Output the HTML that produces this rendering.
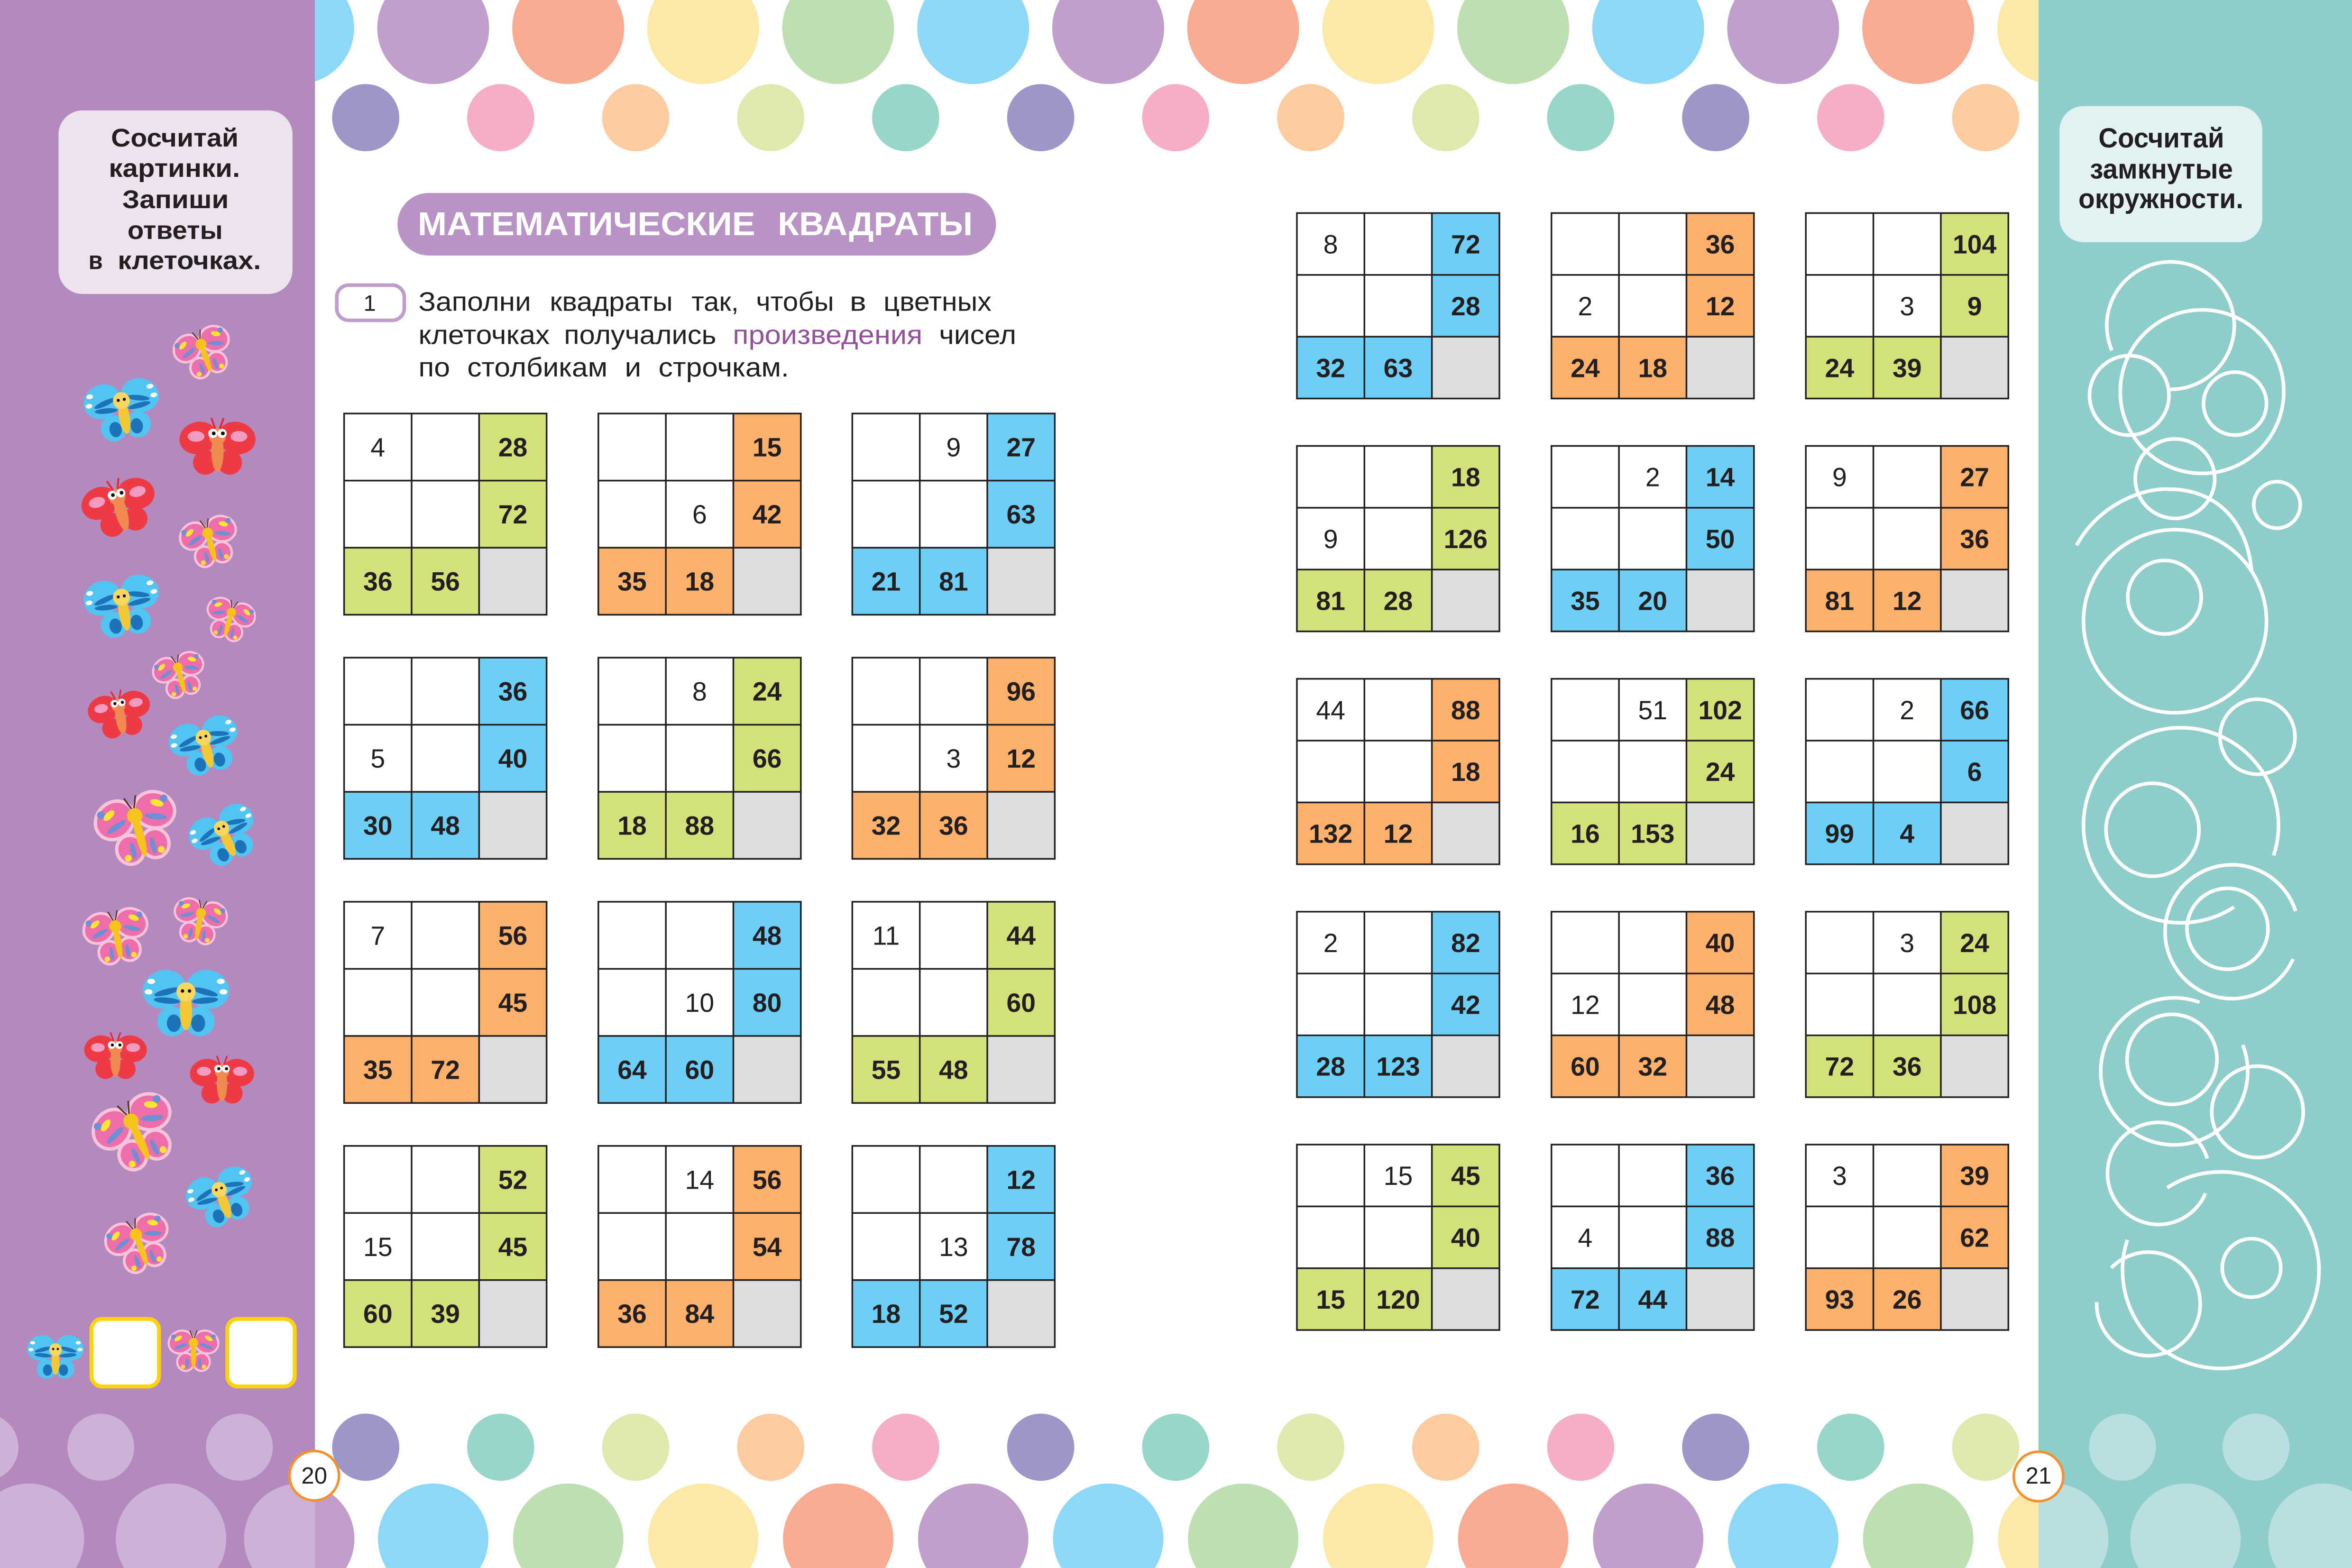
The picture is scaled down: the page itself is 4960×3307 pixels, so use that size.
<!DOCTYPE html>
<html><head><meta charset="utf-8">
<style>
html,body{margin:0;padding:0;background:#fff;}
svg{display:block;}
text{font-family:"Liberation Sans","DejaVu Sans",sans-serif;fill:#231f20;}
.g text{text-anchor:middle;font-size:17.5px;}
.b{font-weight:700;}
.p text{font-size:18px;}
</style></head><body>
<svg xmlns="http://www.w3.org/2000/svg" xmlns:xlink="http://www.w3.org/1999/xlink" width="4960" height="3307" viewBox="0 0 1568 1045" preserveAspectRatio="none">
<defs>
<clipPath id="cw"><rect x="210" y="0" width="1149" height="1045"/></clipPath>
<clipPath id="cpb"><rect x="0" y="0" width="210" height="1045"/></clipPath>
<clipPath id="ctb"><rect x="1359" y="0" width="209" height="1045"/></clipPath>
<path id="gl" d="M0 0H135V134.1H0Z M45 0V134.1M90 0V134.1M0 44.7H135M0 89.4H135" fill="none" stroke="#231f20" stroke-width="1.1"/>
<path id="gr" d="M0 0H135V123.6H0Z M45 0V123.6M90 0V123.6M0 41.2H135M0 82.4H135" fill="none" stroke="#231f20" stroke-width="1.1"/>
<path id="fl" d="M90 0h45v89.4h-45z M0 89.4h90v44.7h-90z"/>
<path id="fr" d="M90 0h45v82.4h-45z M0 82.4h90v41.2h-90z"/>
<rect id="ql" x="90" y="89.4" width="45" height="44.7" fill="#dcdddf"/>
<rect id="qr" x="90" y="82.4" width="45" height="41.2" fill="#dcdddf"/>

<g id="bp">
<g fill="#ee6dab" stroke="#f8c4dc" stroke-width="4">
<ellipse cx="-24" cy="-16" rx="24" ry="21" transform="rotate(-30 -24 -16)"/>
<ellipse cx="24" cy="-16" rx="24" ry="21" transform="rotate(30 24 -16)"/>
<ellipse cx="-15" cy="22" rx="16" ry="17"/>
<ellipse cx="15" cy="22" rx="16" ry="17"/>
</g>
<g fill="#6e8fd3"><ellipse cx="-24" cy="-8" rx="13" ry="3.5" transform="rotate(-20 -24 -8)"/><ellipse cx="24" cy="-8" rx="13" ry="3.5" transform="rotate(20 24 -8)"/><circle cx="-38" cy="-26" r="4.5"/><circle cx="38" cy="-26" r="4.5"/><ellipse cx="-12" cy="24" rx="3" ry="10"/><ellipse cx="12" cy="24" rx="3" ry="10"/></g>
<g fill="#fbe534"><ellipse cx="-29" cy="-23" rx="8" ry="4" transform="rotate(-30 -29 -23)"/><ellipse cx="29" cy="-23" rx="8" ry="4" transform="rotate(30 29 -23)"/><circle cx="-20" cy="31" r="4"/><circle cx="20" cy="31" r="4"/></g>
<path d="M0 -20 L-7 -38 M0 -20 L7 -38" stroke="#5a3a29" stroke-width="2" fill="none"/>
<ellipse cx="0" cy="8" rx="5" ry="26" fill="#f6c31c"/>
<circle cx="0" cy="-15" r="9" fill="#f6c31c"/>
</g>

<g id="bb">
<g fill="#51c4f1">
<ellipse cx="-25" cy="-15" rx="25" ry="22" transform="rotate(-20 -25 -15)"/>
<ellipse cx="25" cy="-15" rx="25" ry="22" transform="rotate(20 25 -15)"/>
<ellipse cx="-16" cy="22" rx="17" ry="17"/>
<ellipse cx="16" cy="22" rx="17" ry="17"/>
</g>
<g fill="#1d72b8">
<ellipse cx="-22" cy="-12" rx="15" ry="3.5" transform="rotate(-15 -22 -12)"/>
<ellipse cx="-22" cy="-2" rx="15" ry="3.5" transform="rotate(5 -22 -2)"/>
<ellipse cx="22" cy="-12" rx="15" ry="3.5" transform="rotate(15 22 -12)"/>
<ellipse cx="22" cy="-2" rx="15" ry="3.5" transform="rotate(-5 22 -2)"/>
<ellipse cx="-14" cy="24" rx="8" ry="10"/><ellipse cx="14" cy="24" rx="8" ry="10"/>
</g>
<g fill="#fff"><ellipse cx="-40" cy="-24" rx="4.5" ry="3"/><ellipse cx="-43" cy="-12" rx="4.5" ry="3"/><ellipse cx="40" cy="-24" rx="4.5" ry="3"/><ellipse cx="43" cy="-12" rx="4.5" ry="3"/></g>
<ellipse cx="0" cy="10" rx="7" ry="22" fill="#f4c737"/>
<circle cx="0" cy="-12" r="11" fill="#f8d660"/>
<circle cx="-4" cy="-13" r="2" fill="#111"/><circle cx="4" cy="-13" r="2" fill="#111"/>
</g>

<g id="br">
<g fill="#ee3a44">
<ellipse cx="-25" cy="-12" rx="25" ry="21" transform="rotate(-15 -25 -12)"/>
<ellipse cx="25" cy="-12" rx="25" ry="21" transform="rotate(15 25 -12)"/>
<ellipse cx="-16" cy="20" rx="16" ry="16"/>
<ellipse cx="16" cy="20" rx="16" ry="16"/>
</g>
<g fill="#f39ac0"><ellipse cx="-28" cy="-14" rx="11" ry="7"/><ellipse cx="28" cy="-14" rx="11" ry="7"/></g>
<ellipse cx="0" cy="6" rx="8" ry="26" fill="#f08a50"/>
<circle cx="0" cy="-14" r="11" fill="#f08a50"/>
<circle cx="-6" cy="-18" r="6" fill="#fff"/><circle cx="6" cy="-18" r="6" fill="#fff"/>
<circle cx="-5" cy="-18" r="2.5" fill="#111"/><circle cx="7" cy="-18" r="2.5" fill="#111"/>
<path d="M-3 -24 L-8 -38 M3 -24 L8 -38" stroke="#e8262f" stroke-width="2.5" fill="none"/>
</g>
</defs>

<!-- backgrounds -->
<rect x="0" y="0" width="1568" height="1045" fill="#fff"/>
<rect x="0" y="0" width="210" height="1045" fill="#b48abe"/>
<rect x="1359" y="0" width="209" height="1045" fill="#8fcdcb"/>

<!-- page circles -->
<g clip-path="url(#cw)">
<g>
<circle cx="198.8" cy="18.7" r="37.3" fill="#8dd8f7"/>
<circle cx="288.8" cy="18.7" r="37.3" fill="#c19fcc"/>
<circle cx="378.8" cy="18.7" r="37.3" fill="#f9ab91"/>
<circle cx="468.8" cy="18.7" r="37.3" fill="#fde9a7"/>
<circle cx="558.8" cy="18.7" r="37.3" fill="#bddfb1"/>
<circle cx="648.8" cy="18.7" r="37.3" fill="#8dd8f7"/>
<circle cx="738.8" cy="18.7" r="37.3" fill="#c19fcc"/>
<circle cx="828.8" cy="18.7" r="37.3" fill="#f9ab91"/>
<circle cx="918.8" cy="18.7" r="37.3" fill="#fde9a7"/>
<circle cx="1008.8" cy="18.7" r="37.3" fill="#bddfb1"/>
<circle cx="1098.8" cy="18.7" r="37.3" fill="#8dd8f7"/>
<circle cx="1188.8" cy="18.7" r="37.3" fill="#c19fcc"/>
<circle cx="1278.8" cy="18.7" r="37.3" fill="#f9ab91"/>
<circle cx="1368.8" cy="18.7" r="37.3" fill="#fde9a7"/>
</g>
<g>
<circle cx="243.8" cy="78.4" r="22.4" fill="#9e95c8"/>
<circle cx="333.8" cy="78.4" r="22.4" fill="#f6aec6"/>
<circle cx="423.8" cy="78.4" r="22.4" fill="#fccca0"/>
<circle cx="513.8" cy="78.4" r="22.4" fill="#dfe9ae"/>
<circle cx="603.8" cy="78.4" r="22.4" fill="#98d6ca"/>
<circle cx="693.8" cy="78.4" r="22.4" fill="#9e95c8"/>
<circle cx="783.8" cy="78.4" r="22.4" fill="#f6aec6"/>
<circle cx="873.8" cy="78.4" r="22.4" fill="#fccca0"/>
<circle cx="963.8" cy="78.4" r="22.4" fill="#dfe9ae"/>
<circle cx="1053.8" cy="78.4" r="22.4" fill="#98d6ca"/>
<circle cx="1143.8" cy="78.4" r="22.4" fill="#9e95c8"/>
<circle cx="1233.8" cy="78.4" r="22.4" fill="#f6aec6"/>
<circle cx="1323.8" cy="78.4" r="22.4" fill="#fccca0"/>
</g>
<g>
<circle cx="243.8" cy="964.5" r="22.4" fill="#9e95c8"/>
<circle cx="333.8" cy="964.5" r="22.4" fill="#98d6ca"/>
<circle cx="423.8" cy="964.5" r="22.4" fill="#dfe9ae"/>
<circle cx="513.8" cy="964.5" r="22.4" fill="#fccca0"/>
<circle cx="603.8" cy="964.5" r="22.4" fill="#f6aec6"/>
<circle cx="693.8" cy="964.5" r="22.4" fill="#9e95c8"/>
<circle cx="783.8" cy="964.5" r="22.4" fill="#98d6ca"/>
<circle cx="873.8" cy="964.5" r="22.4" fill="#dfe9ae"/>
<circle cx="963.8" cy="964.5" r="22.4" fill="#fccca0"/>
<circle cx="1053.8" cy="964.5" r="22.4" fill="#f6aec6"/>
<circle cx="1143.8" cy="964.5" r="22.4" fill="#9e95c8"/>
<circle cx="1233.8" cy="964.5" r="22.4" fill="#98d6ca"/>
<circle cx="1323.8" cy="964.5" r="22.4" fill="#dfe9ae"/>
</g>
<g>
<circle cx="199.5" cy="1025.5" r="36.8" fill="#c29dca"/>
<circle cx="288.8" cy="1025.5" r="36.8" fill="#8dd8f7"/>
<circle cx="378.8" cy="1025.5" r="36.8" fill="#bddfb1"/>
<circle cx="468.8" cy="1025.5" r="36.8" fill="#fde9a7"/>
<circle cx="558.8" cy="1025.5" r="36.8" fill="#f9ab91"/>
<circle cx="648.8" cy="1025.5" r="36.8" fill="#c19fcc"/>
<circle cx="738.8" cy="1025.5" r="36.8" fill="#8dd8f7"/>
<circle cx="828.8" cy="1025.5" r="36.8" fill="#bddfb1"/>
<circle cx="918.8" cy="1025.5" r="36.8" fill="#fde9a7"/>
<circle cx="1008.8" cy="1025.5" r="36.8" fill="#f9ab91"/>
<circle cx="1098.8" cy="1025.5" r="36.8" fill="#c19fcc"/>
<circle cx="1188.8" cy="1025.5" r="36.8" fill="#8dd8f7"/>
<circle cx="1278.8" cy="1025.5" r="36.8" fill="#bddfb1"/>
<circle cx="1368.8" cy="1025.5" r="36.8" fill="#fde9a7"/>
</g>
</g>

<!-- band light circles -->
<g clip-path="url(#cpb)" fill="#ccb2d6">
<circle cx="-10" cy="964.5" r="22.3"/>
<circle cx="67.2" cy="964.5" r="22.3"/>
<circle cx="159.6" cy="964.5" r="22.3"/>
<circle cx="19.3" cy="1025.5" r="36.8"/>
<circle cx="114" cy="1025.5" r="36.8"/>
<circle cx="199.5" cy="1025.5" r="36.8"/>
</g>
<g clip-path="url(#ctb)" fill="#b9dfe0">
<circle cx="1415" cy="964.5" r="22.3"/>
<circle cx="1504" cy="964.5" r="22.3"/>
<circle cx="1368.8" cy="1025.5" r="36.8"/>
<circle cx="1457" cy="1025.5" r="36.8"/>
<circle cx="1549" cy="1025.5" r="36.8"/>
</g>

<!-- left panel box -->
<rect x="39" y="73.6" width="156" height="122.3" rx="16" fill="#ede2ee"/>
<g font-weight="700" font-size="17">
<text x="74" y="97.7" textLength="85" lengthAdjust="spacingAndGlyphs">Сосчитай</text>
<text x="72.5" y="117.9" textLength="87.5" lengthAdjust="spacingAndGlyphs">картинки.</text>
<text x="81.5" y="138.7" textLength="71" lengthAdjust="spacingAndGlyphs">Запиши</text>
<text x="85" y="159.2" textLength="63.5" lengthAdjust="spacingAndGlyphs">ответы</text>
<text x="59" y="179.4" textLength="9.5" lengthAdjust="spacingAndGlyphs">в</text>
<text x="78.5" y="179.4" textLength="95.5" lengthAdjust="spacingAndGlyphs">клеточках.</text>
</g>

<!-- butterflies -->
<use xlink:href="#bp" transform="translate(136 235) rotate(-20) scale(0.40)"/>
<use xlink:href="#bb" transform="translate(82 273) rotate(-10) scale(0.51)"/>
<use xlink:href="#br" transform="translate(145 298) scale(0.51)"/>
<use xlink:href="#br" transform="translate(80 338) rotate(-15) scale(0.50)"/>
<use xlink:href="#bp" transform="translate(140 361) rotate(-15) scale(0.40)"/>
<use xlink:href="#bb" transform="translate(82 404) rotate(-10) scale(0.51)"/>
<use xlink:href="#bp" transform="translate(153 413) rotate(15) scale(0.34)"/>
<use xlink:href="#bp" transform="translate(120 450) rotate(-15) scale(0.36)"/>
<use xlink:href="#br" transform="translate(80 476) rotate(-10) scale(0.42)"/>
<use xlink:href="#bb" transform="translate(137 497) rotate(-15) scale(0.47)"/>
<use xlink:href="#bp" transform="translate(92 552) rotate(-15) scale(0.57)"/>
<use xlink:href="#bb" transform="translate(150 557) rotate(-25) scale(0.46)"/>
<use xlink:href="#bp" transform="translate(78 624) rotate(-10) scale(0.45)"/>
<use xlink:href="#bp" transform="translate(133 614) rotate(10) scale(0.37)"/>
<use xlink:href="#bb" transform="translate(124 668) scale(0.58)"/>
<use xlink:href="#br" transform="translate(77 704) scale(0.42)"/>
<use xlink:href="#br" transform="translate(148 720) scale(0.43)"/>
<use xlink:href="#bp" transform="translate(91 755) rotate(-25) scale(0.57)"/>
<use xlink:href="#bb" transform="translate(148 798) rotate(-20) scale(0.46)"/>
<use xlink:href="#bp" transform="translate(93 829) rotate(-20) scale(0.45)"/>
<use xlink:href="#bb" transform="translate(37 904) scale(0.38)"/>
<use xlink:href="#bp" transform="translate(129 900) scale(0.35)"/>

<!-- answer boxes -->
<rect x="61" y="879" width="45" height="45" rx="7" fill="#fff" stroke="#fdd20a" stroke-width="2.6"/>
<rect x="151.5" y="879" width="45" height="45" rx="7" fill="#fff" stroke="#fdd20a" stroke-width="2.6"/>

<!-- right panel box -->
<rect x="1373" y="70.7" width="135.2" height="90.7" rx="16" fill="#e2f1f1"/>
<g font-weight="700" font-size="18.5">
<text x="1399" y="98.2" textLength="83.8" lengthAdjust="spacingAndGlyphs">Сосчитай</text>
<text x="1393.3" y="119" textLength="95.3" lengthAdjust="spacingAndGlyphs">замкнутые</text>
<text x="1385.6" y="138.7" textLength="110" lengthAdjust="spacingAndGlyphs">окружности.</text>
</g>

<!-- swirls -->
<g fill="none" stroke="#fff" stroke-width="2.4">
<path d="M1407.9 233.6 A42.5 42.5 0 1 1 1447 259.5"/>
<circle cx="1468" cy="261" r="54.5"/>
<circle cx="1419.5" cy="263.5" r="26.5"/>
<circle cx="1490" cy="269" r="21"/>
<circle cx="1450" cy="319" r="26.5"/>
<circle cx="1518" cy="336.5" r="15.5"/>
<circle cx="1450" cy="414" r="61"/>
<path d="M1384.4 363.4 C1400 335 1430 325 1446 326 C1478 326 1498 348 1501 380"/>
<circle cx="1443" cy="398" r="24.5"/>
<path d="M1489.4 604.5 A65 65 0 1 1 1515.8 570.1"/>
<circle cx="1435" cy="553" r="31"/>
<circle cx="1505" cy="491" r="25"/>
<path d="M1528.7 639.1 A44.6 44.6 0 1 1 1530.4 607.2"/>
<circle cx="1485" cy="619" r="27"/>
<path d="M1495.2 696.4 A49 49 0 1 1 1466.3 668"/>
<circle cx="1448" cy="706" r="30"/>
<circle cx="1505" cy="741" r="30.5"/>
<path d="M1470.3 795.3 A34 34 0 1 1 1471.5 772.1"/>
<path d="M1444.8 791.6 A65.5 65.5 0 1 1 1418.2 826.3"/>
<circle cx="1501" cy="845" r="19.5"/>
<path d="M1407.5 845 A34.5 34.5 0 1 1 1397.8 867.8"/>
</g>

<!-- title -->
<rect x="265" y="128.6" width="399" height="41.7" rx="20.8" fill="#b993c5"/>
<g font-weight="700" font-size="22">
<text x="278.5" y="156.8" textLength="225" lengthAdjust="spacingAndGlyphs" style="fill:#fff">МАТЕМАТИЧЕСКИЕ</text>
<text x="518.5" y="156.8" textLength="130" lengthAdjust="spacingAndGlyphs" style="fill:#fff">КВАДРАТЫ</text>
</g>

<!-- task number -->
<rect x="224.5" y="190" width="45" height="23.5" rx="8" fill="#fff" stroke="#c09dcb" stroke-width="2.4"/>
<text x="246.5" y="207.2" font-size="15" text-anchor="middle">1</text>

<!-- paragraph -->
<g class="p">
<text x="279" y="207.2" textLength="75" lengthAdjust="spacingAndGlyphs">Заполни</text>
<text x="366.5" y="207.2" textLength="82" lengthAdjust="spacingAndGlyphs">квадраты</text>
<text x="461" y="207.2" textLength="31.5" lengthAdjust="spacingAndGlyphs">так,</text>
<text x="504" y="207.2" textLength="52" lengthAdjust="spacingAndGlyphs">чтобы</text>
<text x="566.5" y="207.2" textLength="11" lengthAdjust="spacingAndGlyphs">в</text>
<text x="589" y="207.2" textLength="72" lengthAdjust="spacingAndGlyphs">цветных</text>
<text x="279" y="229.3" textLength="87.5" lengthAdjust="spacingAndGlyphs">клеточках</text>
<text x="376" y="229.3" textLength="101.5" lengthAdjust="spacingAndGlyphs">получались</text>
<text x="488.5" y="229.3" textLength="126.5" lengthAdjust="spacingAndGlyphs" style="fill:#93509b">произведения</text>
<text x="626" y="229.3" textLength="51.5" lengthAdjust="spacingAndGlyphs">чисел</text>
<text x="279" y="250.9" textLength="21" lengthAdjust="spacingAndGlyphs">по</text>
<text x="311.5" y="250.9" textLength="93.5" lengthAdjust="spacingAndGlyphs">столбикам</text>
<text x="416.5" y="250.9" textLength="11" lengthAdjust="spacingAndGlyphs">и</text>
<text x="439" y="250.9" textLength="87" lengthAdjust="spacingAndGlyphs">строчкам.</text>
</g>

<!-- LEFT GRIDS -->
<g class="g">
<g transform="translate(229.4 275.6)"><use xlink:href="#fl" fill="#d3e17b"/><use xlink:href="#ql"/><use xlink:href="#gl"/>
<text x="22.5" y="28.6">4</text><text class="b" x="112.5" y="28.6">28</text><text class="b" x="112.5" y="73.3">72</text><text class="b" x="22.5" y="118">36</text><text class="b" x="67.5" y="118">56</text></g>
<g transform="translate(398.9 275.6)"><use xlink:href="#fl" fill="#fbb16c"/><use xlink:href="#ql"/><use xlink:href="#gl"/>
<text class="b" x="112.5" y="28.6">15</text><text x="67.5" y="73.3">6</text><text class="b" x="112.5" y="73.3">42</text><text class="b" x="22.5" y="118">35</text><text class="b" x="67.5" y="118">18</text></g>
<g transform="translate(568.2 275.6)"><use xlink:href="#fl" fill="#6dcff6"/><use xlink:href="#ql"/><use xlink:href="#gl"/>
<text x="67.5" y="28.6">9</text><text class="b" x="112.5" y="28.6">27</text><text class="b" x="112.5" y="73.3">63</text><text class="b" x="22.5" y="118">21</text><text class="b" x="67.5" y="118">81</text></g>

<g transform="translate(229.4 438.3)"><use xlink:href="#fl" fill="#6dcff6"/><use xlink:href="#ql"/><use xlink:href="#gl"/>
<text class="b" x="112.5" y="28.6">36</text><text x="22.5" y="73.3">5</text><text class="b" x="112.5" y="73.3">40</text><text class="b" x="22.5" y="118">30</text><text class="b" x="67.5" y="118">48</text></g>
<g transform="translate(398.9 438.3)"><use xlink:href="#fl" fill="#d3e17b"/><use xlink:href="#ql"/><use xlink:href="#gl"/>
<text x="67.5" y="28.6">8</text><text class="b" x="112.5" y="28.6">24</text><text class="b" x="112.5" y="73.3">66</text><text class="b" x="22.5" y="118">18</text><text class="b" x="67.5" y="118">88</text></g>
<g transform="translate(568.2 438.3)"><use xlink:href="#fl" fill="#fbb16c"/><use xlink:href="#ql"/><use xlink:href="#gl"/>
<text class="b" x="112.5" y="28.6">96</text><text x="67.5" y="73.3">3</text><text class="b" x="112.5" y="73.3">12</text><text class="b" x="22.5" y="118">32</text><text class="b" x="67.5" y="118">36</text></g>

<g transform="translate(229.4 601)"><use xlink:href="#fl" fill="#fbb16c"/><use xlink:href="#ql"/><use xlink:href="#gl"/>
<text x="22.5" y="28.6">7</text><text class="b" x="112.5" y="28.6">56</text><text class="b" x="112.5" y="73.3">45</text><text class="b" x="22.5" y="118">35</text><text class="b" x="67.5" y="118">72</text></g>
<g transform="translate(398.9 601)"><use xlink:href="#fl" fill="#6dcff6"/><use xlink:href="#ql"/><use xlink:href="#gl"/>
<text class="b" x="112.5" y="28.6">48</text><text x="67.5" y="73.3">10</text><text class="b" x="112.5" y="73.3">80</text><text class="b" x="22.5" y="118">64</text><text class="b" x="67.5" y="118">60</text></g>
<g transform="translate(568.2 601)"><use xlink:href="#fl" fill="#d3e17b"/><use xlink:href="#ql"/><use xlink:href="#gl"/>
<text x="22.5" y="28.6">11</text><text class="b" x="112.5" y="28.6">44</text><text class="b" x="112.5" y="73.3">60</text><text class="b" x="22.5" y="118">55</text><text class="b" x="67.5" y="118">48</text></g>

<g transform="translate(229.4 763.7)"><use xlink:href="#fl" fill="#d3e17b"/><use xlink:href="#ql"/><use xlink:href="#gl"/>
<text class="b" x="112.5" y="28.6">52</text><text x="22.5" y="73.3">15</text><text class="b" x="112.5" y="73.3">45</text><text class="b" x="22.5" y="118">60</text><text class="b" x="67.5" y="118">39</text></g>
<g transform="translate(398.9 763.7)"><use xlink:href="#fl" fill="#fbb16c"/><use xlink:href="#ql"/><use xlink:href="#gl"/>
<text x="67.5" y="28.6">14</text><text class="b" x="112.5" y="28.6">56</text><text class="b" x="112.5" y="73.3">54</text><text class="b" x="22.5" y="118">36</text><text class="b" x="67.5" y="118">84</text></g>
<g transform="translate(568.2 763.7)"><use xlink:href="#fl" fill="#6dcff6"/><use xlink:href="#ql"/><use xlink:href="#gl"/>
<text class="b" x="112.5" y="28.6">12</text><text x="67.5" y="73.3">13</text><text class="b" x="112.5" y="73.3">78</text><text class="b" x="22.5" y="118">18</text><text class="b" x="67.5" y="118">52</text></g>

<!-- RIGHT GRIDS -->
<g transform="translate(864.6 142)"><use xlink:href="#fr" fill="#6dcff6"/><use xlink:href="#qr"/><use xlink:href="#gr"/>
<text x="22.5" y="26.9">8</text><text class="b" x="112.5" y="26.9">72</text><text class="b" x="112.5" y="68.1">28</text><text class="b" x="22.5" y="109.3">32</text><text class="b" x="67.5" y="109.3">63</text></g>
<g transform="translate(1034.3 142)"><use xlink:href="#fr" fill="#fbb16c"/><use xlink:href="#qr"/><use xlink:href="#gr"/>
<text class="b" x="112.5" y="26.9">36</text><text x="22.5" y="68.1">2</text><text class="b" x="112.5" y="68.1">12</text><text class="b" x="22.5" y="109.3">24</text><text class="b" x="67.5" y="109.3">18</text></g>
<g transform="translate(1203.9 142)"><use xlink:href="#fr" fill="#d3e17b"/><use xlink:href="#qr"/><use xlink:href="#gr"/>
<text class="b" x="112.5" y="26.9">104</text><text x="67.5" y="68.1">3</text><text class="b" x="112.5" y="68.1">9</text><text class="b" x="22.5" y="109.3">24</text><text class="b" x="67.5" y="109.3">39</text></g>

<g transform="translate(864.6 297.2)"><use xlink:href="#fr" fill="#d3e17b"/><use xlink:href="#qr"/><use xlink:href="#gr"/>
<text class="b" x="112.5" y="26.9">18</text><text x="22.5" y="68.1">9</text><text class="b" x="112.5" y="68.1">126</text><text class="b" x="22.5" y="109.3">81</text><text class="b" x="67.5" y="109.3">28</text></g>
<g transform="translate(1034.3 297.2)"><use xlink:href="#fr" fill="#6dcff6"/><use xlink:href="#qr"/><use xlink:href="#gr"/>
<text x="67.5" y="26.9">2</text><text class="b" x="112.5" y="26.9">14</text><text class="b" x="112.5" y="68.1">50</text><text class="b" x="22.5" y="109.3">35</text><text class="b" x="67.5" y="109.3">20</text></g>
<g transform="translate(1203.9 297.2)"><use xlink:href="#fr" fill="#fbb16c"/><use xlink:href="#qr"/><use xlink:href="#gr"/>
<text x="22.5" y="26.9">9</text><text class="b" x="112.5" y="26.9">27</text><text class="b" x="112.5" y="68.1">36</text><text class="b" x="22.5" y="109.3">81</text><text class="b" x="67.5" y="109.3">12</text></g>

<g transform="translate(864.6 452.4)"><use xlink:href="#fr" fill="#fbb16c"/><use xlink:href="#qr"/><use xlink:href="#gr"/>
<text x="22.5" y="26.9">44</text><text class="b" x="112.5" y="26.9">88</text><text class="b" x="112.5" y="68.1">18</text><text class="b" x="22.5" y="109.3">132</text><text class="b" x="67.5" y="109.3">12</text></g>
<g transform="translate(1034.3 452.4)"><use xlink:href="#fr" fill="#d3e17b"/><use xlink:href="#qr"/><use xlink:href="#gr"/>
<text x="67.5" y="26.9">51</text><text class="b" x="112.5" y="26.9">102</text><text class="b" x="112.5" y="68.1">24</text><text class="b" x="22.5" y="109.3">16</text><text class="b" x="67.5" y="109.3">153</text></g>
<g transform="translate(1203.9 452.4)"><use xlink:href="#fr" fill="#6dcff6"/><use xlink:href="#qr"/><use xlink:href="#gr"/>
<text x="67.5" y="26.9">2</text><text class="b" x="112.5" y="26.9">66</text><text class="b" x="112.5" y="68.1">6</text><text class="b" x="22.5" y="109.3">99</text><text class="b" x="67.5" y="109.3">4</text></g>

<g transform="translate(864.6 607.6)"><use xlink:href="#fr" fill="#6dcff6"/><use xlink:href="#qr"/><use xlink:href="#gr"/>
<text x="22.5" y="26.9">2</text><text class="b" x="112.5" y="26.9">82</text><text class="b" x="112.5" y="68.1">42</text><text class="b" x="22.5" y="109.3">28</text><text class="b" x="67.5" y="109.3">123</text></g>
<g transform="translate(1034.3 607.6)"><use xlink:href="#fr" fill="#fbb16c"/><use xlink:href="#qr"/><use xlink:href="#gr"/>
<text class="b" x="112.5" y="26.9">40</text><text x="22.5" y="68.1">12</text><text class="b" x="112.5" y="68.1">48</text><text class="b" x="22.5" y="109.3">60</text><text class="b" x="67.5" y="109.3">32</text></g>
<g transform="translate(1203.9 607.6)"><use xlink:href="#fr" fill="#d3e17b"/><use xlink:href="#qr"/><use xlink:href="#gr"/>
<text x="67.5" y="26.9">3</text><text class="b" x="112.5" y="26.9">24</text><text class="b" x="112.5" y="68.1">108</text><text class="b" x="22.5" y="109.3">72</text><text class="b" x="67.5" y="109.3">36</text></g>

<g transform="translate(864.6 762.8)"><use xlink:href="#fr" fill="#d3e17b"/><use xlink:href="#qr"/><use xlink:href="#gr"/>
<text x="67.5" y="26.9">15</text><text class="b" x="112.5" y="26.9">45</text><text class="b" x="112.5" y="68.1">40</text><text class="b" x="22.5" y="109.3">15</text><text class="b" x="67.5" y="109.3">120</text></g>
<g transform="translate(1034.3 762.8)"><use xlink:href="#fr" fill="#6dcff6"/><use xlink:href="#qr"/><use xlink:href="#gr"/>
<text class="b" x="112.5" y="26.9">36</text><text x="22.5" y="68.1">4</text><text class="b" x="112.5" y="68.1">88</text><text class="b" x="22.5" y="109.3">72</text><text class="b" x="67.5" y="109.3">44</text></g>
<g transform="translate(1203.9 762.8)"><use xlink:href="#fr" fill="#fbb16c"/><use xlink:href="#qr"/><use xlink:href="#gr"/>
<text x="22.5" y="26.9">3</text><text class="b" x="112.5" y="26.9">39</text><text class="b" x="112.5" y="68.1">62</text><text class="b" x="22.5" y="109.3">93</text><text class="b" x="67.5" y="109.3">26</text></g>
</g>

<!-- page numbers -->
<circle cx="209.5" cy="983.5" r="16.5" fill="#fff" stroke="#f3922f" stroke-width="1.7"/>
<text x="209.5" y="988.8" font-size="15.5" text-anchor="middle">20</text>
<circle cx="1359" cy="984" r="16.5" fill="#fff" stroke="#f3922f" stroke-width="1.7"/>
<text x="1359" y="988.8" font-size="15.5" text-anchor="middle">21</text>
</svg>
</body></html>
